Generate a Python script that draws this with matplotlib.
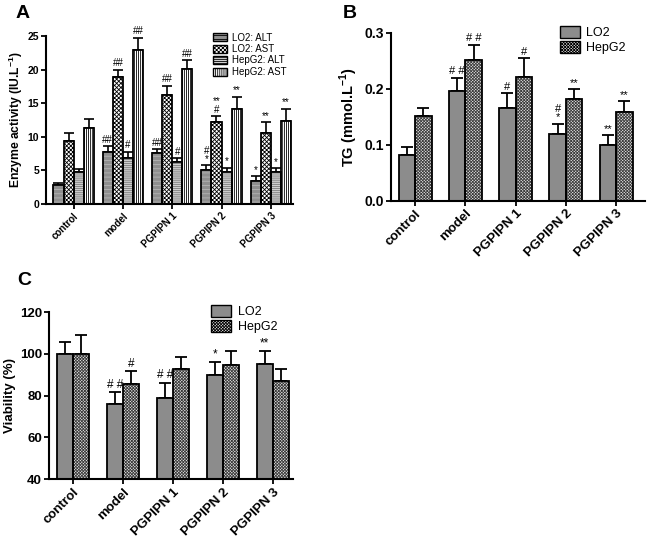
import numpy as np
import matplotlib
matplotlib.use('Agg')
import matplotlib.pyplot as plt
from matplotlib.patches import Patch

plt.rcParams['font.family'] = ['Liberation Sans', 'DejaVu Sans']
plt.rcParams['mathtext.fontset'] = 'custom'
plt.rcParams['mathtext.bf'] = 'Liberation Sans:bold'
plt.rcParams['mathtext.rm'] = 'Liberation Sans:bold'
plt.rcParams['hatch.linewidth'] = 0.6

groups = ['control', 'model', 'PGPIPN 1', 'PGPIPN 2', 'PGPIPN 3']

# panel A: enzyme activity (IU/L)
a_names = ['LO2: ALT', 'LO2: AST', 'HepG2: ALT', 'HepG2: AST']
a_lo2_alt = [2.8, 7.8, 7.6, 5.05, 3.4]
a_lo2_alt_err = [0.4, 0.8, 0.6, 0.7, 0.7]
a_lo2_ast = [9.4, 18.95, 16.2, 12.25, 10.5]
a_lo2_ast_err = [1.2, 1.05, 1.4, 0.85, 1.65]
a_hep_alt = [4.7, 6.9, 6.2, 4.7, 4.7]
a_hep_alt_err = [0.5, 0.9, 0.65, 0.7, 0.6]
a_hep_ast = [11.3, 22.9, 20.1, 14.2, 12.4]
a_hep_ast_err = [1.3, 1.85, 1.35, 1.8, 1.8]
a_marks = [['', '##', '##', '#\n*', '*'],
           ['', '##', '##', '**\n#', '**'],
           ['', '#', '#', '*', '*'],
           ['', '##', '##', '**', '**']]

# panel B: TG (mmol/L)
b_lo2 = [0.081, 0.196, 0.165, 0.120, 0.099]
b_lo2_err = [0.015, 0.024, 0.027, 0.0175, 0.018]
b_hep = [0.151, 0.251, 0.221, 0.181, 0.158]
b_hep_err = [0.014, 0.028, 0.034, 0.018, 0.020]
b_marks = [['', '# #', '#', '#\n*', '**'],
           ['', '# #', '#', '**', '**']]

# panel C: viability (%)
c_lo2 = [100, 75.9, 78.8, 90.1, 95.1]
c_lo2_err = [5.5, 5.8, 7.3, 6.1, 6.4]
c_hep = [100, 85.8, 92.7, 94.8, 86.8]
c_hep_err = [9.0, 5.9, 5.6, 6.7, 5.9]
c_marks = [['', '# #', '# #', '*', '**'],
           ['', '#', '', '', '']]

GRAY = '#8c8c8c'
CHK_FC, CHK_HATCH, CHK_HC = '#e6e6e6', 'x' * 11, '#3c3c3c'


def hbar(ax, x, h, w, fc, hatch, hc):
    # fill + hatch first, then a black outline on top
    ax.bar(x, h, w, color=fc, hatch=hatch, edgecolor=hc, linewidth=0, zorder=2)
    ax.bar(x, h, w, fill=False, edgecolor='black', linewidth=1.3, zorder=3)


def errs(ax, x, h, e, cap, lw=1.3):
    ax.errorbar(x, h, yerr=[np.zeros(len(e)), e], fmt='none', ecolor='black',
                elinewidth=lw, capsize=cap, capthick=lw, zorder=1)


def marks(ax, x, h, e, m, fs):
    for xi, hi, ei, mi in zip(x, h, e, m):
        if mi:
            ax.annotate(mi, (xi, hi + ei), xytext=(0, 1), textcoords='offset points',
                        ha='center', va='bottom', fontsize=fs, linespacing=0.8)


def style(ax, ylo, yhi, ticks, tfs, xfs):
    for s in ['top', 'right']:
        ax.spines[s].set_visible(False)
    for s in ['left', 'bottom']:
        ax.spines[s].set_linewidth(1.5)
    ax.set_ylim(ylo, yhi)
    ax.set_yticks(ticks)
    ax.tick_params(width=1.3, length=3.5, pad=1.5)
    ax.tick_params(axis='y', labelsize=tfs)
    for t in ax.get_yticklabels():
        t.set_fontweight('bold')
    ax.set_xticks(range(5))
    ax.set_xticklabels(groups, rotation=45, ha='right', rotation_mode='anchor',
                       fontweight='bold', fontsize=xfs)


fig = plt.figure(figsize=(6.5, 5.39), dpi=100)
x = np.arange(5)

# ---- A
axA = fig.add_axes([0.0708, 0.6215, 0.38, 0.3115])
w = 0.205
a_vals = [a_lo2_alt, a_lo2_ast, a_hep_alt, a_hep_ast]
a_err = [a_lo2_alt_err, a_lo2_ast_err, a_hep_alt_err, a_hep_ast_err]
a_style = [('#8f8f8f', '----', '#b5b5b5'),
           ('white', 'x' * 8, 'black'),
           ('#cfcfcf', '-' * 8, '#7a7a7a'),
           ('white', '|' * 8, 'black')]
handles = []
for i in range(4):
    xi = x + (i - 1.5) * w
    fc, ht, hc = a_style[i]
    errs(axA, xi, a_vals[i], a_err[i], 3.5, 1.2)
    hbar(axA, xi, a_vals[i], w, fc, ht, hc)
    marks(axA, xi, a_vals[i], a_err[i], a_marks[i], 7)
    handles.append(Patch(facecolor=fc, hatch=ht, edgecolor='black', linewidth=1))
style(axA, 0, 25, [0, 5, 10, 15, 20, 25], 7.5, 7)
axA.set_xlim(-0.56, 4.45)
axA.set_ylabel(r'Enzyme activity (IU.L$^{\mathbf{-1}}$)', fontsize=8.7,
               fontweight='bold', labelpad=2)
axA.legend(handles, a_names, loc='upper left', bbox_to_anchor=(0.655, 1.05),
           frameon=False, fontsize=7, handlelength=1.5, handleheight=0.9,
           labelspacing=0.15, handletextpad=0.5, borderpad=0)

# ---- B
axB = fig.add_axes([0.6015, 0.6277, 0.3905, 0.3113])
w2 = 0.33
errs(axB, x - w2 / 2, b_lo2, b_lo2_err, 4)
errs(axB, x + w2 / 2, b_hep, b_hep_err, 4)
hbar(axB, x - w2 / 2, b_lo2, w2, GRAY, None, GRAY)
hbar(axB, x + w2 / 2, b_hep, w2, CHK_FC, CHK_HATCH, CHK_HC)
marks(axB, x - w2 / 2, b_lo2, b_lo2_err, b_marks[0], 8)
marks(axB, x + w2 / 2, b_hep, b_hep_err, b_marks[1], 8)
style(axB, 0, 0.3, [0.0, 0.1, 0.2, 0.3], 10, 9.5)
axB.set_yticklabels(['0.0', '0.1', '0.2', '0.3'], fontweight='bold')
axB.set_xlim(-0.48, 4.57)
axB.set_ylabel(r'TG (mmol.L$^{\mathbf{-1}}$)', fontsize=10.5, fontweight='bold', labelpad=3)
hb = [Patch(facecolor=GRAY, edgecolor='black', linewidth=1),
      Patch(facecolor=CHK_FC, hatch=CHK_HATCH, edgecolor='black', linewidth=1)]
axB.legend(hb, ['LO2', 'HepG2'], loc='upper left', bbox_to_anchor=(0.64, 1.08),
           frameon=False, fontsize=9, handlelength=1.6, handleheight=1.1,
           labelspacing=0.15, handletextpad=0.5, borderpad=0)

# ---- C
axC = fig.add_axes([0.0754, 0.111, 0.3754, 0.31])
errs(axC, x - w2 / 2, c_lo2, c_lo2_err, 4)
errs(axC, x + w2 / 2, c_hep, c_hep_err, 4)
hbar(axC, x - w2 / 2, c_lo2, w2 * 0.97, GRAY, None, GRAY)
hbar(axC, x + w2 / 2, c_hep, w2 * 0.97, CHK_FC, CHK_HATCH, CHK_HC)
marks(axC, x - w2 / 2, c_lo2, c_lo2_err, c_marks[0], 8.5)
marks(axC, x + w2 / 2, c_hep, c_hep_err, c_marks[1], 8.5)
style(axC, 40, 120, [40, 60, 80, 100, 120], 9.5, 9.5)
axC.set_xlim(-0.48, 4.4)
axC.set_ylabel('Viability (%)', fontsize=9.5, fontweight='bold', labelpad=3)
axC.legend(hb, ['LO2', 'HepG2'], loc='upper left', bbox_to_anchor=(0.64, 1.08),
           frameon=False, fontsize=9, handlelength=1.6, handleheight=1.1,
           labelspacing=0.15, handletextpad=0.5, borderpad=0)

# panel letters
fig.text(0.024, 0.99, 'A', fontsize=14, fontweight='bold', va='top')
fig.text(0.527, 0.99, 'B', fontsize=14, fontweight='bold', va='top')
fig.text(0.026, 0.495, 'C', fontsize=14, fontweight='bold', va='top')

fig.savefig('out.png', dpi=100)
